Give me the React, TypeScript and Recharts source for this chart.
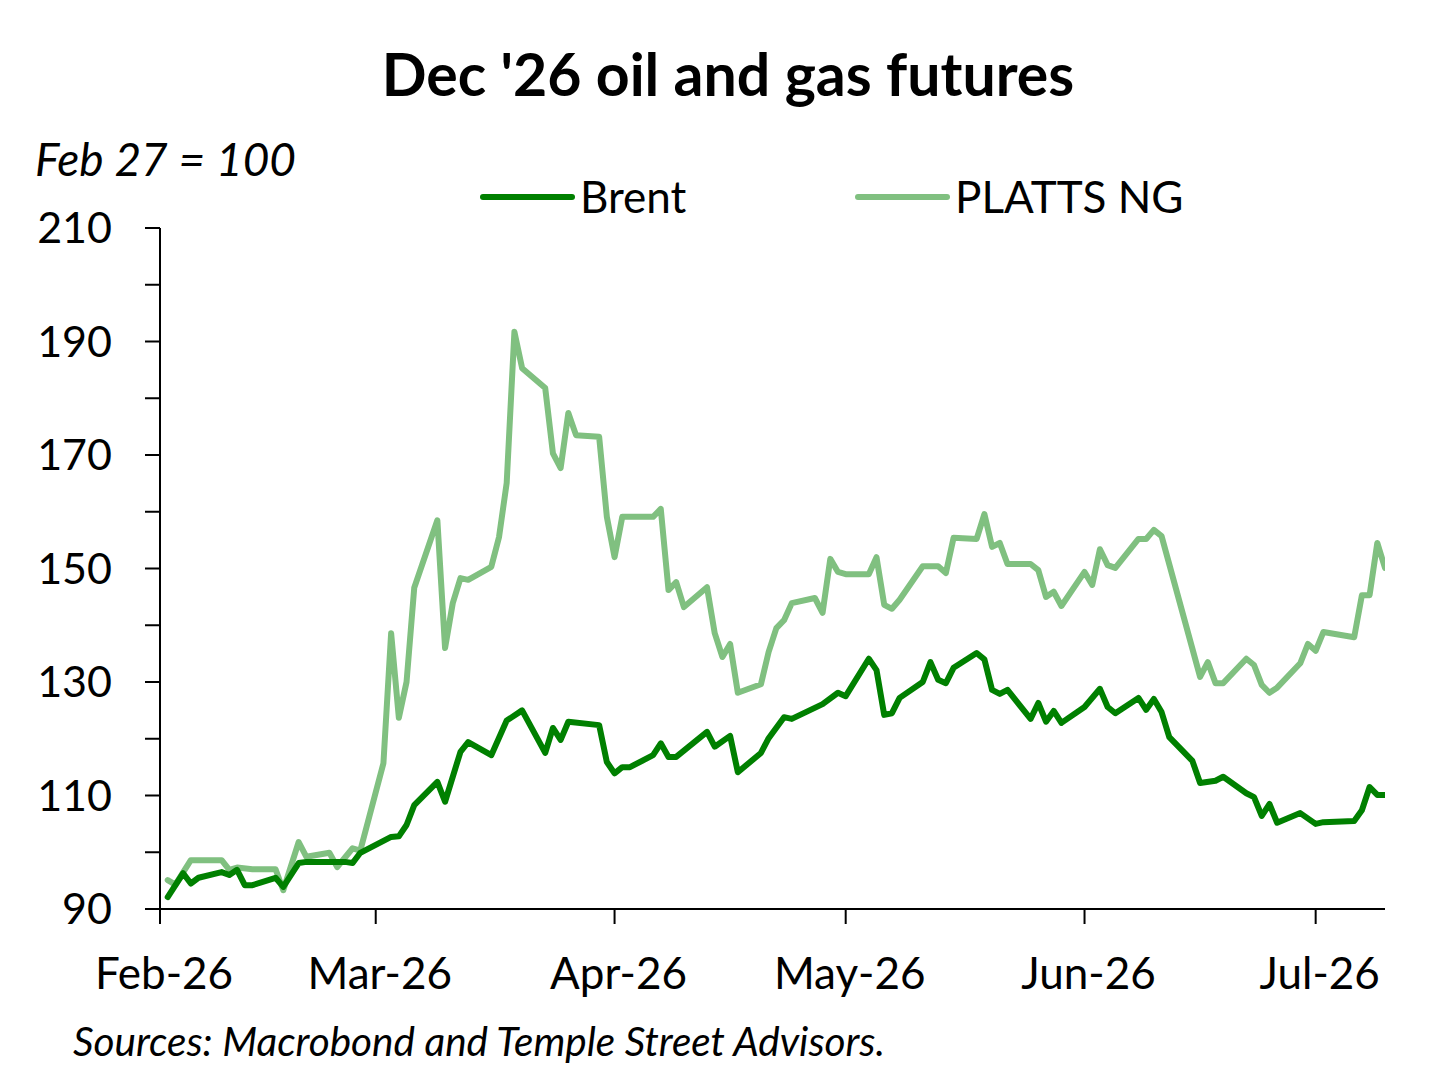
import React from 'react';
import { Line, LineChart, XAxis, YAxis } from 'recharts';

// day index: 0 = 1 Feb 2026
const brentDays = [
  1, 3, 4, 5, 8, 9, 10, 11, 12, 15, 16, 18, 19, 22, 24, 25, 26, 30, 31, 32, 33, 36, 37, 39, 40,
  43, 45, 47, 50, 51, 52, 53, 57, 58, 59, 60, 61, 64, 65, 66, 67, 71, 72, 74, 75, 78, 79, 81, 82,
  86, 88, 89, 92, 93, 94, 95, 96, 99, 100, 101, 102, 103, 106, 107, 108, 109, 110, 113, 114, 115,
  116, 117, 120, 122, 123, 124, 127, 128, 129, 130, 131, 134, 135, 137, 138, 141, 142, 143, 144,
  145, 148, 150, 151, 155, 156, 157, 158, 159,
];
const brentValues = [
  92.1, 96.3, 94.5, 95.5, 96.5, 96.0, 96.9, 94.2, 94.2, 95.5, 93.9, 98.1, 98.3, 98.3, 98.3, 98.1,
  99.9, 102.7, 102.8, 104.8, 108.3, 112.4, 108.9, 117.7, 119.4, 117.1, 123.2, 125.0, 117.5, 121.9,
  119.8, 123.0, 122.4, 115.9, 113.9, 115.0, 115.0, 117.1, 119.2, 116.8, 116.8, 121.2, 118.6, 120.5,
  114.1, 117.5, 120.1, 123.8, 123.5, 126.1, 128.1, 127.5, 134.1, 132.1, 124.2, 124.5, 127.2, 130.0,
  133.5, 130.4, 129.8, 132.5, 135.1, 134.0, 128.6, 127.9, 128.6, 123.5, 126.3, 123.0, 124.9, 122.8,
  125.6, 128.8, 125.6, 124.5, 127.2, 125.1, 127.0, 124.7, 120.3, 116.1, 112.2, 112.6, 113.3, 110.4,
  109.7, 106.4, 108.5, 105.2, 106.9, 105.0, 105.3, 105.5, 107.4, 111.5, 110.1, 110.1,
];

const ngDays = [
  1, 2, 4, 8, 9, 10, 12, 15, 16, 18, 19, 22, 23, 25, 26, 29, 30, 31, 32, 33, 36, 37, 38, 39, 40,
  43, 44, 45, 46, 47, 50, 51, 52, 53, 54, 57, 58, 59, 60, 64, 65, 66, 67, 68, 71, 72, 73, 74, 75,
  78, 79, 80, 81, 82, 85, 86, 87, 88, 89, 92, 93, 94, 95, 96, 99, 101, 102, 103, 106, 107, 108,
  109, 110, 113, 114, 115, 116, 117, 120, 121, 122, 123, 124, 127, 128, 129, 130, 135, 136, 137,
  138, 141, 142, 143, 144, 145, 148, 149, 150, 151, 155, 156, 157, 158, 159,
];
const ngValues = [
  95.1, 94.3, 98.6, 98.6, 96.9, 97.3, 97.0, 97.0, 93.3, 101.8, 99.2, 99.9, 97.4, 100.7, 100.3,
  115.7, 138.6, 123.7, 130.0, 146.6, 158.5, 136.0, 143.9, 148.3, 148.0, 150.3, 155.5, 165.1, 191.7,
  185.3, 181.8, 170.3, 167.7, 177.4, 173.5, 173.2, 159.1, 152.0, 159.1, 159.1, 160.5, 146.2, 147.6,
  143.2, 146.7, 138.6, 134.4, 136.7, 128.1, 129.6, 135.3, 139.5, 140.9, 143.9, 144.8, 142.2, 151.7,
  149.4, 149.0, 149.0, 152.0, 143.6, 142.9, 144.5, 150.4, 150.4, 149.2, 155.4, 155.2, 159.6, 153.8,
  154.5, 150.8, 150.8, 149.7, 145.0, 145.9, 143.4, 149.4, 147.1, 153.4, 150.6, 150.1, 155.2, 155.2,
  156.8, 155.7, 130.9, 133.5, 129.8, 129.8, 134.1, 133.0, 129.5, 128.1, 129.0, 133.3, 136.7, 135.5,
  138.8, 137.9, 145.3, 145.3, 154.5, 150.1,
];

const monthTicks = [0, 28, 59, 89, 120, 150];
const monthLabels = ['Feb-26', 'Mar-26', 'Apr-26', 'May-26', 'Jun-26', 'Jul-26'];
const yTicks = [90, 100, 110, 120, 130, 140, 150, 160, 170, 180, 190, 200, 210];
const yLabelled = [90, 110, 130, 150, 170, 190, 210];

const BRENT = '#008000';
const NG = '#80c080';
const FONT = 'Lato, "Open Sans", sans-serif';

const byDay = new Map<number, { day: number; brent: number | null; ng: number | null }>();
brentDays.forEach((d, i) => byDay.set(d, { day: d, brent: brentValues[i], ng: null }));
ngDays.forEach((d, i) => {
  const row = byDay.get(d) ?? { day: d, brent: null, ng: null };
  row.ng = ngValues[i];
  byDay.set(d, row);
});
const rows = [...byDay.values()].sort((a, b) => a.day - b.day);

const legendItems = [
  { name: 'Brent', color: BRENT, x: 483 },
  { name: 'PLATTS NG', color: NG, x: 858 },
];

export default function App() {
  return (
    <div style={{ position: 'absolute', left: 0, top: 0, width: 1456, height: 1090, background: '#fff' }}>
      <LineChart width={1456} height={1090} data={rows} margin={{ top: 228, right: 71, bottom: 121, left: 0 }}>
        <XAxis
          type="number"
          dataKey="day"
          domain={[0, 159]}
          allowDataOverflow
          ticks={monthTicks}
          tickFormatter={(v: number) => monthLabels[monthTicks.indexOf(v)] ?? ''}
          height={60}
          stroke="#000"
          strokeWidth={2}
          tickSize={15}
          tickMargin={34}
          tick={{ fill: '#000', fontSize: 44, fontFamily: FONT, dx: 4 }}
        />
        <YAxis
          type="number"
          domain={[90, 210]}
          allowDataOverflow
          ticks={yTicks}
          interval={0}
          tickFormatter={(v: number) => (yLabelled.includes(v) ? String(v) : '')}
          width={160}
          stroke="#000"
          strokeWidth={2}
          tickSize={15}
          tickMargin={33}
          tick={{ fill: '#000', fontSize: 43, fontFamily: FONT }}
        />
        <Line
          dataKey="ng"
          stroke={NG}
          strokeWidth={6}
          dot={false}
          connectNulls
          strokeLinejoin="round"
          strokeLinecap="round"
          isAnimationActive={false}
        />
        <Line
          dataKey="brent"
          stroke={BRENT}
          strokeWidth={6}
          dot={false}
          connectNulls
          strokeLinejoin="round"
          strokeLinecap="round"
          isAnimationActive={false}
        />
      </LineChart>
      <svg
        width={1456}
        height={1090}
        style={{ position: 'absolute', left: 0, top: 0, pointerEvents: 'none' }}
        fontFamily={FONT}
      >
        <text x={728} y={96} textAnchor="middle" fontSize={59} fontWeight={700} fill="#000">
          Dec '26 oil and gas futures
        </text>
        <text x={35} y={176} fontSize={46} fontStyle="italic" fill="#000">
          Feb 27 = 100
        </text>
        {legendItems.map((item) => (
          <g key={item.name}>
            <line
              x1={item.x}
              x2={item.x + 89}
              y1={197}
              y2={197}
              stroke={item.color}
              strokeWidth={6}
              strokeLinecap="round"
            />
            <text x={item.x + 97} y={213} fontSize={44} fill="#000">
              {item.name}
            </text>
          </g>
        ))}
        <text x={73} y={1056} fontSize={40.5} fontStyle="italic" fill="#000">
          Sources: Macrobond and Temple Street Advisors.
        </text>
      </svg>
    </div>
  );
}
